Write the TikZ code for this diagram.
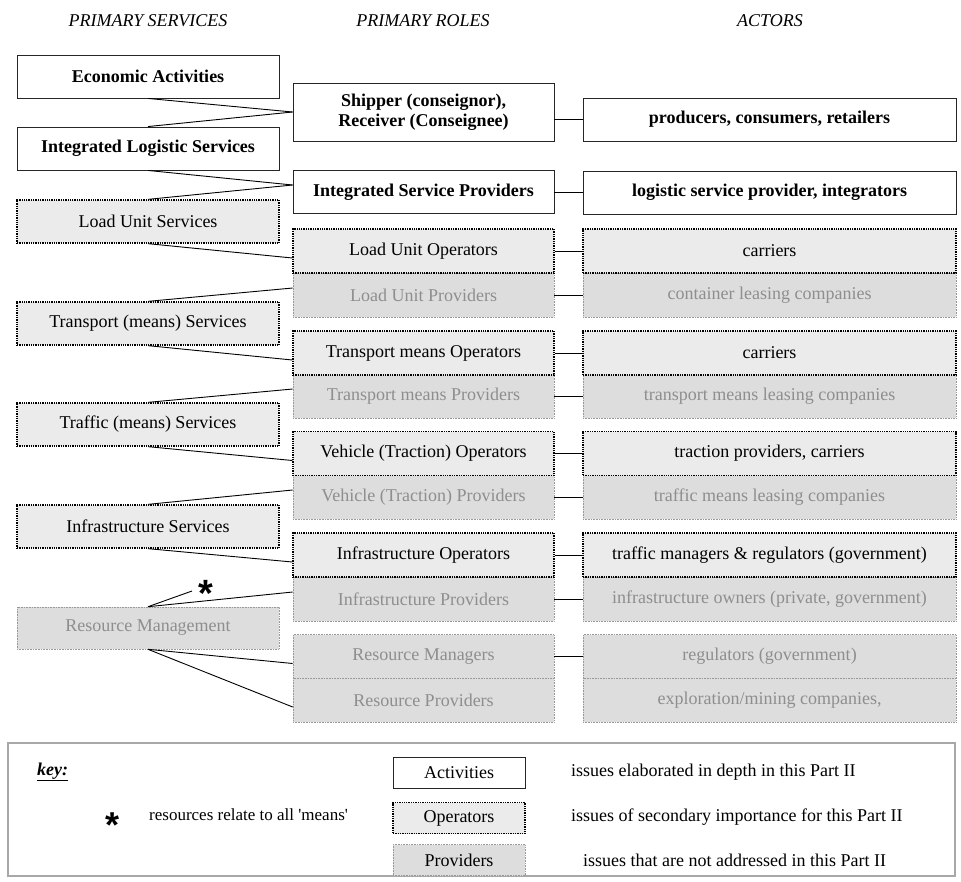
\documentclass[tikz,border=0pt]{standalone}
\usepackage{fontspec}
\setmainfont{Liberation Serif}
\newfontfamily\starfont{Liberation Sans}
\usetikzlibrary{positioning}

\definecolor{opfill}{HTML}{EBEBEB}
\definecolor{provfill}{HTML}{DDDDDD}
\definecolor{provtext}{HTML}{8E8E8E}
\definecolor{keyline}{HTML}{A8A8A8}

\begin{document}
\begin{tikzpicture}[x=1pt, y=-1pt,
    box/.style={inner sep=0pt, align=center},
    actbox/.style={box, draw=black!85, line width=0.9pt, fill=white},
    opbox/.style={box, draw=black, line width=1.3pt, densely dotted, fill=opfill},
    provbox/.style={box, draw=black!40, line width=0.6pt, densely dotted, fill=provfill, text=provtext},
    svc/.style={minimum width=262pt, minimum height=43pt},
    role/.style={minimum width=261pt, minimum height=44pt},
    actor/.style={minimum width=373pt, minimum height=44pt},
    keybox/.style={minimum width=132pt, minimum height=31pt},
    starmark/.style={font=\starfont\bfseries\fontsize{38}{38}\selectfont, inner sep=0pt},
    link/.style={line width=0.9pt}]
  \fontsize{18}{20}\selectfont
  \useasboundingbox (0,0) rectangle (961,881);

  % Column headings
  \node[font=\itshape] (hserv) at (148,21) {PRIMARY SERVICES};
  \node[font=\itshape] (hrole) at (423,21) {PRIMARY ROLES};
  \node[font=\itshape] (hact) at (770,21) {ACTORS};

  % Primary services
  \node[actbox, svc, font=\bfseries] (econ) at (148,76.5) {Economic Activities};
  \node[actbox, svc, font=\bfseries] (ils) at (148,148.5) {Integrated Logistic Services};
  \node[opbox, svc] (lus) at (148,221.5) {Load Unit Services};
  \node[opbox, svc] (ts) at (148,323.5) {Transport (means) Services};
  \node[opbox, svc] (trs) at (148,424.5) {Traffic (means) Services};
  \node[opbox, svc] (infs) at (148,526.5) {Infrastructure Services};
  \node[provbox, svc, minimum height=42pt] (resm) at (148,628) {Resource Management};

  % Primary roles (providers first, so the dotted operator frames stay on top)
  \node[actbox, role, minimum height=58pt, font=\bfseries] (shipper) at (423.5,112) {Shipper (conseignor),\\Receiver (Conseignee)};
  \node[actbox, role, minimum height=43pt, font=\bfseries] (isp) at (423.5,192) {Integrated Service Providers};
  \node[provbox, role] (lup) at (423.5,295) {Load Unit Providers};
  \node[provbox, role] (tmp) at (423.5,396) {Transport means Providers};
  \node[provbox, role] (vp) at (423.5,497) {Vehicle (Traction) Providers};
  \node[provbox, role] (ip) at (423.5,599) {Infrastructure Providers};
  \node[provbox, role] (rmgr) at (423.5,656.5) {Resource Managers};
  \node[provbox, role] (rprov) at (423.5,700) {Resource Providers};
  \node[opbox, role] (luo) at (423.5,251) {Load Unit Operators};
  \node[opbox, role] (tmo) at (423.5,353) {Transport means Operators};
  \node[opbox, role] (vo) at (423.5,453.5) {Vehicle (Traction) Operators};
  \node[opbox, role] (io) at (423.5,555) {Infrastructure Operators};

  % Actors
  \node[actbox, actor, minimum height=43pt, font=\bfseries] (prod) at (769.5,119.5) {producers, consumers, retailers};
  \node[actbox, actor, minimum height=43pt, font=\bfseries] (lsp) at (769.5,192.5) {logistic service provider, integrators};
  \node[provbox, actor] (lease) at (769.5,295) {container leasing companies};
  \node[provbox, actor] (tmlease) at (769.5,396) {transport means leasing companies};
  \node[provbox, actor] (trlease) at (769.5,497) {traffic means leasing companies};
  \node[provbox, actor] (owners) at (769.5,599) {infrastructure owners (private, government)};
  \node[provbox, actor] (regul) at (769.5,656.5) {regulators (government)};
  \node[provbox, actor] (mining) at (769.5,700) {exploration/mining companies,};
  \node[opbox, actor] (carr) at (769.5,251) {carriers};
  \node[opbox, actor] (tmcarr) at (769.5,353) {carriers};
  \node[opbox, actor] (traction) at (769.5,453.5) {traction providers, carriers};
  \node[opbox, actor] (managers) at (769.5,555) {traffic managers \& regulators (government)};

  % Services -> roles
  \draw[link] (econ.south) -- (shipper.west);
  \draw[link] (ils.north) -- (shipper.west);
  \draw[link] (ils.south) -- ([yshift=7pt]isp.west);
  \foreach \s/\r in {lus/isp, ts/lup, trs/tmp, infs/vp, resm/ip}
    \draw[link] (\s.north) -- ([yshift=7pt]\r.west);
  \foreach \s/\r in {lus/luo, ts/tmo, trs/vo, infs/io, resm/rmgr, resm/rprov}
    \draw[link] (\s.south) -- ([yshift=-7pt]\r.west);

  % Roles -> actors
  \foreach \r/\a in {shipper/prod, isp/lsp, luo/carr, lup/lease, tmo/tmcarr, tmp/tmlease,
                     vo/traction, vp/trlease, io/managers, ip/owners, rmgr/regul}
    \draw[link] (\a.west -| \r.east) -- (\a.west);

  % Resources apply to all means
  \coordinate (startip) at (192,591);
  \draw[link] (resm.north) -- (startip);
  \node[starmark, anchor=base] (star) at (205.5,606.5) {*};

  % Key
  \draw[keyline, line width=1.5pt] (8,743) rectangle (955,876);
  \node[anchor=west] (keylbl) at (31,772) {\underline{\textbf{\textit{key:}}}};
  \node[starmark, anchor=base, font=\starfont\bfseries\fontsize{36}{36}\selectfont] (keystar) at (113,837) {*};
  \node[anchor=west, font=\fontsize{17}{19}\selectfont] (keynote) at (143,815) {resources relate to all \textquotesingle means\textquotesingle};
  \node[actbox, keybox] (kact) at (459,773) {Activities};
  \node[opbox, keybox] (kop) at (459,818) {Operators};
  \node[provbox, keybox, text=black] (kprov) at (459,860) {Providers};
  \node[anchor=west] (dact) at (565,772) {issues elaborated in depth in this Part II};
  \node[anchor=west] (dop) at (565,817) {issues of secondary importance for this Part II};
  \node[anchor=west] (dprov) at (577,860) {issues that are not addressed in this Part II};
\end{tikzpicture}
\end{document}
